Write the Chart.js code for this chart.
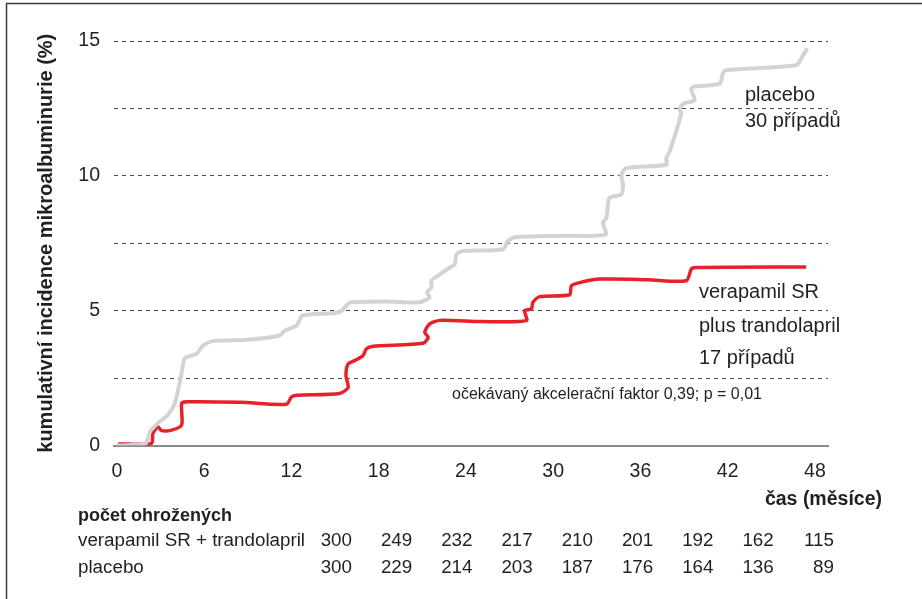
<!DOCTYPE html>
<html>
<head>
<meta charset="utf-8">
<script src="https://cdn.jsdelivr.net/npm/chart.js@4"></script>
<style>
  html, body { margin: 0; padding: 0; background: #fff; }
  canvas { display: block; }
</style>
</head>
<body>
<canvas class="js-chart" width="922" height="599"></canvas>
<script>
// months / cumulative incidence (%)
const placeboX = [0, 1.0, 2.0, 2.27, 2.82, 3.5, 4.0, 4.45, 4.67, 5.48, 5.91, 6.6, 9.0, 11.2, 11.55, 12.35, 12.78, 15.3, 15.9, 16.1, 18.5, 20.8, 21.5, 21.33, 21.63, 21.63, 22.2, 22.89, 23.23, 23.35, 23.8, 26.55, 26.89, 27.47, 30.5, 33.6, 33.42, 33.66, 33.88, 34.69, 34.8, 34.69, 35.03, 37.78, 37.78, 38.01, 38.81, 38.69, 39.04, 39.73, 39.5, 39.61, 41.44, 41.67, 41.9, 46.71, 47.06, 47.4, 47.51];
const placeboY = [0, 0.02, 0.09, 0.51, 0.83, 1.13, 1.6, 2.68, 3.23, 3.41, 3.7, 3.87, 3.92, 4.08, 4.26, 4.45, 4.82, 4.94, 5.26, 5.31, 5.34, 5.31, 5.49, 5.68, 5.86, 6.11, 6.35, 6.6, 6.72, 7.09, 7.21, 7.28, 7.58, 7.73, 7.78, 7.82, 8.26, 8.44, 9.18, 9.31, 9.68, 10.04, 10.29, 10.41, 10.66, 10.9, 12.32, 12.5, 12.69, 12.81, 13.18, 13.3, 13.42, 13.79, 13.92, 14.1, 14.35, 14.66, 14.72];

const verapamilX = [0.09, 2.38, 2.47, 2.82, 3.07, 3.76, 4.45, 4.45, 4.79, 8.5, 11.66, 12.0, 12.35, 15.3, 15.9, 15.75, 15.9, 16.36, 16.93, 17.16, 17.62, 21.05, 21.4, 21.17, 21.51, 22.2, 25.0, 28.16, 28.04, 28.5, 28.61, 29.07, 31.13, 31.25, 31.82, 33.2, 36.5, 39.15, 39.5, 39.84, 47.4];
const verapamilY = [0.06, 0.08, 0.45, 0.69, 0.55, 0.57, 0.76, 1.56, 1.62, 1.6, 1.53, 1.8, 1.86, 1.93, 2.15, 2.6, 3.03, 3.15, 3.34, 3.59, 3.68, 3.79, 4.01, 4.2, 4.51, 4.64, 4.6, 4.63, 5.0, 5.06, 5.31, 5.52, 5.59, 5.92, 6.04, 6.17, 6.15, 6.11, 6.54, 6.6, 6.62];

const xTicks = [0, 6, 12, 18, 24, 30, 36, 42, 48];
const yTicks = [0, 5, 10, 15];

// patients at risk
const riskRows = ["verapamil SR + trandolapril", "placebo"];
const riskVerapamil = [300, 249, 232, 217, 210, 201, 192, 162, 115];
const riskPlacebo = [300, 229, 214, 203, 187, 176, 164, 136, 89];

const textColor = "#231f20";
const fontFamily = "'Liberation Sans', Arial, Helvetica, sans-serif";

const toPoints = function (xs, ys) {
  return xs.map((x, i) => ({ x: x, y: ys[i] }));
};

const labelsPlugin = {
  id: "labels",
  afterDraw(chart) {
    const ctx = chart.ctx;
    ctx.save();

    // frame
    ctx.strokeStyle = "#3a3a3a";
    ctx.lineWidth = 1.5;
    ctx.beginPath();
    ctx.moveTo(6.5, 599);
    ctx.lineTo(6.5, 3.5);
    ctx.lineTo(922, 3.5);
    ctx.stroke();

    ctx.fillStyle = textColor;
    ctx.textBaseline = "middle";
    ctx.textAlign = "left";

    // series labels
    ctx.font = "20px " + fontFamily;
    ctx.fillText("placebo", 745, 95);
    ctx.fillText("30 případů", 745, 121);
    ctx.fillText("verapamil SR", 699, 292);
    ctx.fillText("plus trandolapril", 699, 326);
    ctx.fillText("17 případů", 699, 358);

    ctx.font = "16px " + fontFamily;
    ctx.fillText("očekávaný akcelerační faktor 0,39; p = 0,01", 452, 395);

    // x title
    ctx.font = "bold 19.5px " + fontFamily;
    ctx.textAlign = "right";
    ctx.fillText("čas (měsíce)", 882, 500);

    // at-risk table
    ctx.textAlign = "left";
    ctx.font = "bold 18px " + fontFamily;
    ctx.fillText("počet ohrožených", 78, 516);
    ctx.font = "18.8px " + fontFamily;
    ctx.fillText(riskRows[0], 78, 541);
    ctx.fillText(riskRows[1], 78, 568);
    ctx.textAlign = "right";
    riskVerapamil.forEach((v, i) => ctx.fillText(String(v), 352 + i * 60.25, 541));
    riskPlacebo.forEach((v, i) => ctx.fillText(String(v), 352 + i * 60.25, 568));

    ctx.restore();
  },
};

const drawChart = function () {
  const canvas = document.querySelector(".js-chart");
  new Chart(canvas, {
    type: "line",
    data: {
      datasets: [
        {
          label: "placebo",
          data: toPoints(placeboX, placeboY),
          borderColor: "#d1d3d4",
          borderWidth: 4,
          pointRadius: 0,
          tension: 0.25,
          fill: false,
        },
        {
          label: "verapamil SR + trandolapril",
          data: toPoints(verapamilX, verapamilY),
          borderColor: "#e8202a",
          borderWidth: 3.5,
          pointRadius: 0,
          tension: 0.25,
          fill: false,
        },
      ],
    },
    options: {
      responsive: false,
      animation: false,
      layout: {
        padding: { top: 41, left: 34, right: 94, bottom: 0 },
      },
      plugins: {
        legend: { display: false },
        tooltip: { enabled: false },
      },
      scales: {
        x: {
          type: "linear",
          min: -0.2,
          max: 48.9,
          afterBuildTicks: (scale) => {
            scale.ticks = xTicks.map((v) => ({ value: v }));
          },
          afterFit: (scale) => {
            scale.height = 153.5;
          },
          grid: { display: false, drawTicks: false },
          border: { display: true, color: "#8c8c8c", width: 2 },
          ticks: {
            padding: 14,
            maxRotation: 0,
            color: textColor,
            font: { family: fontFamily, size: 19.5 },
          },
        },
        y: {
          min: 0,
          max: 15,
          afterBuildTicks: (scale) => {
            scale.ticks = [0, 2.5, 5, 7.5, 10, 12.5, 15].map((v) => ({ value: v }));
          },
          afterFit: (scale) => {
            scale.width = 80;
          },
          grid: {
            drawTicks: false,
            color: (c) => (c.tick.value === 0 ? "rgba(0,0,0,0)" : "#4a4a4a"),
            lineWidth: 1,
          },
          border: { display: false, dash: [4, 4] },
          ticks: {
            padding: 14,
            color: textColor,
            font: { family: fontFamily, size: 19.5 },
            callback: (v) => (yTicks.includes(v) ? String(v) : ""),
          },
          title: {
            display: true,
            text: "kumulativní incidence mikroalbuminurie (%)",
            color: textColor,
            padding: 0,
            font: { family: fontFamily, size: 20, weight: "bold" },
          },
        },
      },
    },
    plugins: [labelsPlugin],
  });
};

const init = function () {
  drawChart();
};

document.addEventListener("DOMContentLoaded", init);
</script>
</body>
</html>
